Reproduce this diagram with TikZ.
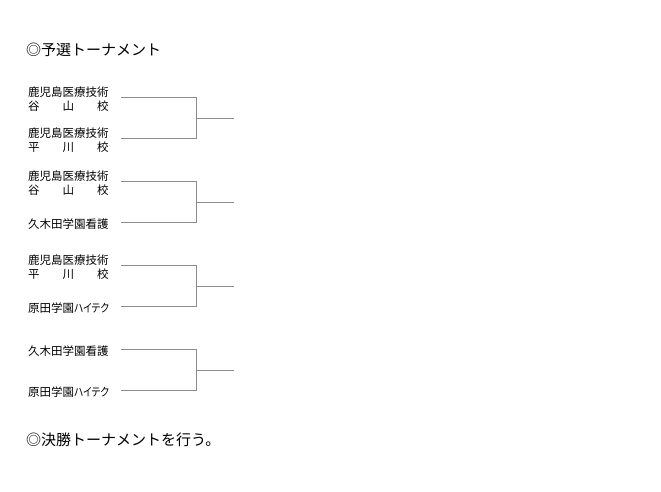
\documentclass[tikz,border=0pt]{standalone}
\usepackage{graphicx}
\usepackage{fontspec}
\setmainfont{Noto Sans CJK JP}
\newfontfamily\propfont[RawFeature=+palt]{Noto Sans CJK JP}
\definecolor{linegray}{RGB}{140,140,140}
\tikzset{bracket/.style={draw=linegray, line width=1pt}}
\newcommand{\tani}{\makebox[7em][s]{谷\hfill 山\hfill 校}}
\newcommand{\hira}{\makebox[7em][s]{平\hfill 川\hfill 校}}
\newcommand{\harada}{原田学園\scalebox{0.84}[1]{\propfont ハイテク}}
\begin{document}
\begin{tikzpicture}[x=1pt,y=-1pt]
\useasboundingbox (0,0) rectangle (661,491);
\node[anchor=west, inner sep=0pt, font=\fontsize{15}{17}\selectfont] (head) at (26,50) {◎予選トーナメント};
  \begin{scope}[every node/.style={anchor=west, inner sep=0pt, align=left,
                                  font=\fontsize{11.5}{13.5}\selectfont}]
  \node (t1a) at (28,99) {鹿児島医療技術\\\tani};
  \node (t1b) at (28,140) {鹿児島医療技術\\\hira};
  \node (t2a) at (28,183) {鹿児島医療技術\\\tani};
  \node (t2b) at (28,224) {久木田学園看護};
  \node (t3a) at (28,267) {鹿児島医療技術\\\hira};
  \node (t3b) at (28,308) {\harada};
  \node (t4a) at (28,351) {久木田学園看護};
  \node (t4b) at (28,392) {\harada};
 \end{scope}
  % bracket corners
  \coordinate (b1a) at (121,97);  \coordinate (c1a) at (196,97);
  \coordinate (b1b) at (121,138); \coordinate (c1b) at (196,138);
  \coordinate (m1) at (196,118);  \coordinate (w1) at (234,118);
  \coordinate (b2a) at (121,181); \coordinate (c2a) at (196,181);
  \coordinate (b2b) at (121,222); \coordinate (c2b) at (196,222);
  \coordinate (m2) at (196,202);  \coordinate (w2) at (234,202);
  \coordinate (b3a) at (121,265); \coordinate (c3a) at (196,265);
  \coordinate (b3b) at (121,306); \coordinate (c3b) at (196,306);
  \coordinate (m3) at (196,286);  \coordinate (w3) at (234,286);
  \coordinate (b4a) at (121,349); \coordinate (c4a) at (196,349);
  \coordinate (b4b) at (121,390); \coordinate (c4b) at (196,390);
  \coordinate (m4) at (196,370);  \coordinate (w4) at (234,370);
  \draw [bracket] (b1a) -- (c1a) -- (c1b) -- (b1b);
  \draw [bracket] (m1) -- (w1);
  \draw [bracket] (b2a) -- (c2a) -- (c2b) -- (b2b);
  \draw [bracket] (m2) -- (w2);
  \draw [bracket] (b3a) -- (c3a) -- (c3b) -- (b3b);
  \draw [bracket] (m3) -- (w3);
  \draw [bracket] (b4a) -- (c4a) -- (c4b) -- (b4b);
  \draw [bracket] (m4) -- (w4);
\node[anchor=west, inner sep=0pt, font=\fontsize{15}{17}\selectfont] (final) at (26,440) {◎決勝トーナメントを行う。};
 \end{tikzpicture}
\end{document}
